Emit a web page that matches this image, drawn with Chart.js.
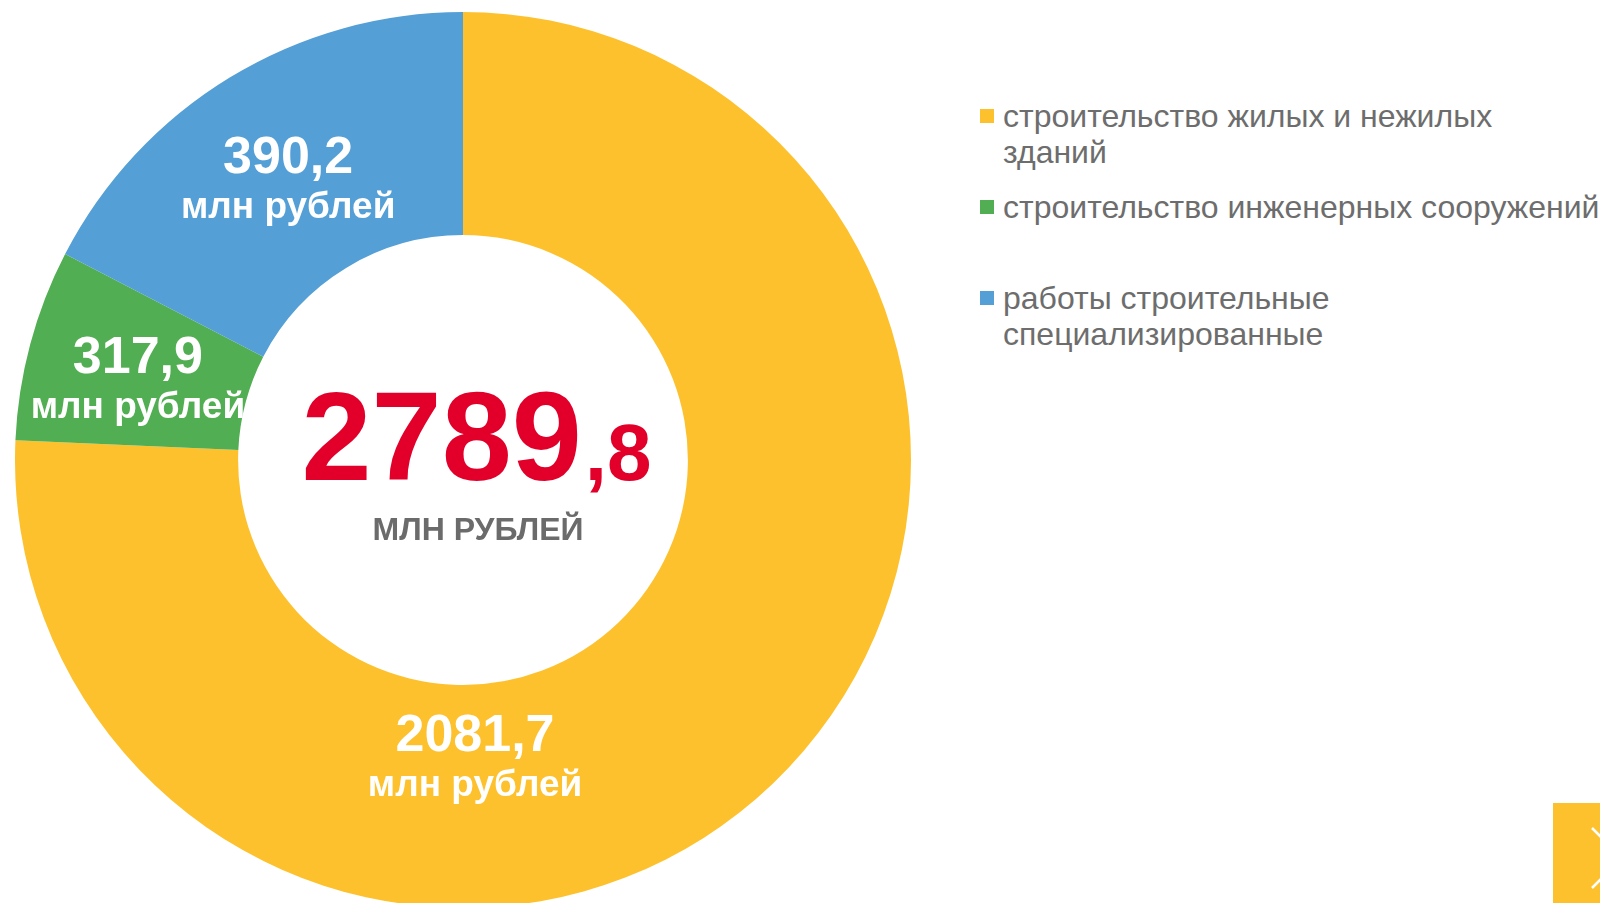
<!DOCTYPE html>
<html lang="ru">
<head>
<meta charset="utf-8">
<script src="https://cdn.jsdelivr.net/npm/chart.js@4"></script>
<style>
  html, body { margin: 0; padding: 0; width: 1600px; height: 903px; overflow: hidden; background: #fff; font-family: "Liberation Sans", Arial, sans-serif; }
  #wrap { position: absolute; left: 15px; top: 12px; width: 896px; height: 896px; }
  #legend { position: absolute; left: 980px; top: 0; }
  .li { position: absolute; left: 0; display: flex; align-items: flex-start; }
  .sw { width: 14px; height: 14px; margin-top: 11px; margin-right: 9px; flex: none; }
  .tx { font-size: 32px; line-height: 36px; color: #6d6d6d; width: 530px; }
  .nw { white-space: nowrap; }
  #nav { position: absolute; left: 1553px; top: 803px; width: 80px; height: 100px; background: #fec12e; }
</style>
</head>
<body>
<div id="wrap"><canvas id="c" width="896" height="896"></canvas></div>
<div id="legend"></div>
<div id="nav"><svg width="80" height="100"><polyline points="39,25 69,55 39,85" fill="none" stroke="#fff" stroke-width="2.5"/></svg></div>
<script>
// Объём работ по видам деятельности, млн рублей
const labels = ['строительство жилых и нежилых зданий', 'строительство инженерных сооружений', 'работы строительные специализированные'];
// numbers printed on the picture
const values = [2081.7, 317.9, 390.2];
// slice sizes as drawn on the picture (% of the ring) - they do not follow the printed numbers
const sliceShares = [75.7, 6.9, 17.4];
const colors = ['#fec12e', '#52ae52', '#539fd6'];
const unit = 'млн рублей';
const totalUnit = 'МЛН РУБЛЕЙ';

const fmt = (v) => v.toFixed(1).replace('.', ',');

// legend (html, so the text wraps like the original)
(function () {
  const tops = [98, 189, 280];
  document.getElementById('legend').innerHTML = labels.map((l, i) =>
    `<div class="li" style="top:${tops[i]}px"><div class="sw" style="background:${colors[i]}"></div><div class="tx${i === 1 ? ' nw' : ''}">${l}</div></div>`
  ).join('');
})();

// where the value labels sit: angle (deg, clockwise from top) and share of outer radius
const labelSpots = [[177.8, 0.699], [281.3, 0.740], [326.6, 0.709]];

const sliceLabels = {
  id: 'sliceLabels',
  afterDatasetsDraw(chart) {
    const ctx = chart.ctx;
    const arcs = chart.getDatasetMeta(0).data;
    ctx.save();
    ctx.fillStyle = '#fff';
    ctx.textAlign = 'center';
    ctx.textBaseline = 'alphabetic';
    arcs.forEach((arc, i) => {
      const { x, y, outerRadius } = arc.getProps(['x', 'y', 'outerRadius'], true);
      const [deg, f] = labelSpots[i];
      const a = deg * Math.PI / 180;
      const lx = x + Math.sin(a) * outerRadius * f;
      const ly = y - Math.cos(a) * outerRadius * f;
      ctx.font = 'bold 52px "Liberation Sans", Arial, sans-serif';
      ctx.fillText(fmt(values[i]), lx, ly - 22);
      ctx.font = 'bold 37px "Liberation Sans", Arial, sans-serif';
      ctx.fillText(unit, lx, ly + 23);
    });

    // total in the hole
    const { x, y } = arcs[0].getProps(['x', 'y'], true);
    const total = values.reduce((s, v) => s + v, 0);
    const [whole, frac] = fmt(total).split(',');
    const bigFont = 'bold 126px "Liberation Sans", Arial, sans-serif';
    const smallFont = 'bold 80px "Liberation Sans", Arial, sans-serif';
    ctx.font = bigFont; const w1 = ctx.measureText(whole).width;
    ctx.font = smallFont; const w2 = ctx.measureText(',' + frac).width;
    const cx = x + 12, base = y + 20;
    const left = cx - (w1 + w2) / 2;
    ctx.textAlign = 'left';
    ctx.fillStyle = '#e2002b';
    ctx.font = bigFont; ctx.fillText(whole, left, base);
    ctx.font = smallFont; ctx.fillText(',' + frac, left + w1 + 3, base);
    ctx.textAlign = 'center';
    ctx.fillStyle = '#6b6b6b';
    ctx.font = 'bold 32px "Liberation Sans", Arial, sans-serif';
    ctx.fillText(totalUnit, x + 15, y + 80);
    ctx.restore();
  }
};

new Chart(document.getElementById('c'), {
  type: 'doughnut',
  data: { labels, datasets: [{ data: sliceShares, backgroundColor: colors, borderWidth: 0, hoverOffset: 0 }] },
  options: {
    responsive: false, maintainAspectRatio: false,
    animation: false,
    cutout: '50.2%',
    layout: { padding: 0 },
    plugins: { legend: { display: false }, tooltip: { enabled: false } },
    events: []
  },
  plugins: [sliceLabels]
});
</script>
</body>
</html>
